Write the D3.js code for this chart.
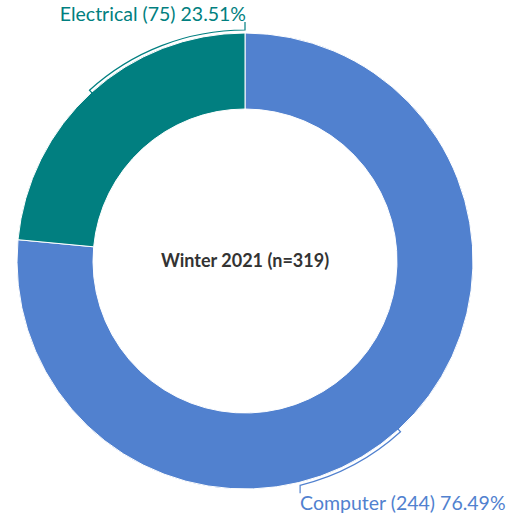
<!DOCTYPE html>
<html>
<head>
<meta charset="utf-8">
<script src="https://cdn.jsdelivr.net/npm/d3@7"></script>
<style>
  html, body { margin: 0; padding: 0; background: #fff; }
  svg { display: block; }
</style>
</head>
<body>
<svg id="chart" width="506" height="516"></svg>
<script>
// Enrolment by program, Winter 2021
const categories = ["Computer", "Electrical"];
const counts = [244, 75];
const percents = ["76.49%", "23.51%"];
const colors = ["#5181cf", "#017f80"];
const title = "Winter 2021 (n=319)";

// Layout
const cx = 245, cy = 261;
const outerR = 228, innerR = 152;
const bracketR = 231;
// Angle (degrees, clockwise from 12 o'clock) where each callout bracket meets its label
const labelAngle = [166.2, 360];

const svg = d3.select("#chart");
const g = svg.append("g").attr("transform", `translate(${cx},${cy})`);

const data = categories.map((c, i) => ({ name: c, value: counts[i], pct: percents[i], color: colors[i] }));

const pie = d3.pie().value(d => d.value).sort(null);
const arcs = pie(data);

const arc = d3.arc().innerRadius(innerR).outerRadius(outerR);

g.selectAll("path.slice")
  .data(arcs)
  .join("path")
  .attr("class", "slice")
  .attr("d", arc)
  .attr("fill", d => d.data.color)
  .attr("stroke", "#fff")
  .attr("stroke-width", 1);

const rad = a => a * Math.PI / 180;
const pt = (a, r) => [r * Math.sin(a), -r * Math.cos(a)];

// Callout brackets: arc from slice middle to label anchor, with end hooks
arcs.forEach((d, i) => {
  const mid = (d.startAngle + d.endAngle) / 2;
  const end = rad(labelAngle[i]);
  const path = d3.path();
  const [mx0, my0] = pt(mid, bracketR - 4);
  const [mx1, my1] = pt(mid, bracketR);
  path.moveTo(mx0, my0);
  path.lineTo(mx1, my1);
  const ccw = end < mid;
  path.arc(0, 0, bracketR, mid - Math.PI / 2, end - Math.PI / 2, ccw);
  const [ex, ey] = pt(end, bracketR);
  const tickLen = 8;
  const up = ey < 0;
  path.lineTo(ex, ey + (up ? -tickLen : tickLen));
  g.append("path")
    .attr("d", path.toString())
    .attr("fill", "none")
    .attr("stroke", d.data.color)
    .attr("stroke-width", 1.2);

  g.append("text")
    .attr("x", ex + (up ? 1 : 0))
    .attr("y", up ? ey + (-tickLen - 1) : ey + tickLen + 17)
    .attr("text-anchor", up ? "end" : "start")
    .attr("font-family", "Lato, 'Open Sans', sans-serif")
    .attr("font-size", 19.5)
    .attr("fill", d.data.color)
    .text(`${d.data.name} (${d.data.value}) ${d.data.pct}`);
});

// Centre title
g.append("text")
  .attr("x", 0)
  .attr("y", 6)
  .attr("text-anchor", "middle")
  .attr("font-family", "Lato, 'Open Sans', sans-serif")
  .attr("font-weight", "bold")
  .attr("font-size", 18)
  .attr("fill", "#333")
  .text(title);
</script>
</body>
</html>
